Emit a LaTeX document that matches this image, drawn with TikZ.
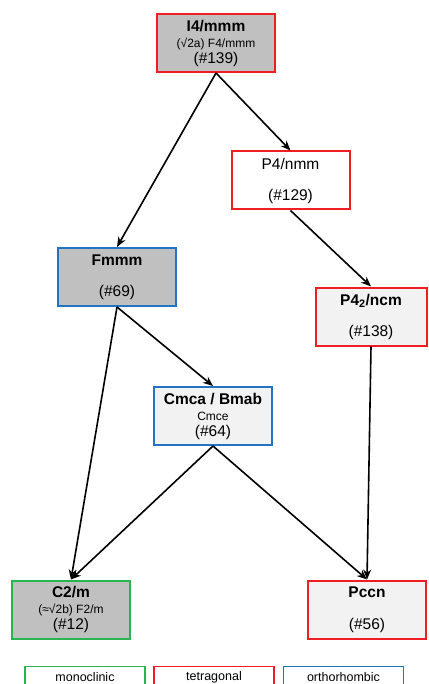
\documentclass[tikz,border=0pt]{standalone}
\usepackage{fontspec}
\setmainfont{Liberation Sans}
\usetikzlibrary{arrows.meta}
\definecolor{tetra}{RGB}{240,30,35}
\definecolor{ortho}{RGB}{35,115,195}
\definecolor{mono}{RGB}{40,180,80}
\definecolor{darkfill}{RGB}{192,192,192}
\definecolor{lightfill}{RGB}{242,242,242}
\tikzset{
  box/.style={draw, line width=2pt, minimum width=118pt, minimum height=58pt, inner sep=0pt, align=center, font={\fontsize{15.5}{16}\selectfont}},
  tet/.style={box, draw=tetra},
  ort/.style={box, draw=ortho},
  mon/.style={box, draw=mono},
  dark/.style={fill=darkfill},
  light/.style={fill=lightfill},
  conn/.style={line width=1.6pt, -{Stealth[length=10pt,width=8pt]}},
  legend/.style={draw, line width=1.8pt, minimum width=120pt, minimum height=40pt, anchor=north, inner sep=0pt},
  legtext/.style={font={\fontsize{12.5}{14}\selectfont}}
}
\newcommand{\sm}[1]{{\fontsize{12}{16}\selectfont #1}}
\begin{document}
\begin{tikzpicture}[x=1pt,y=-1pt]
\useasboundingbox (0,0) rectangle (428,684);
\node[tet,dark] (i4) at (216,43) {\textbf{I4/mmm}\\\sm{(√2a) F4/mmm}\\(\#139)};
\node[tet,fill=white] (p4) at (290.5,180.5) {P4/nmm\\[15pt](\#129)};
\node[ort,dark] (fm) at (117,277) {\textbf{Fmmm}\\[15pt](\#69)};
\node[tet,light,minimum width=111pt] (p42) at (371,316.5) {\textbf{P4\textsubscript{2}/ncm}\\[15pt](\#138)};
\node[ort,light] (cm) at (213,416) {\textbf{Cmca / Bmab}\\\sm{Cmce}\\(\#64)};
\node[mon,dark] (c2) at (71,609.5) {\textbf{C2/m}\\\sm{(≈√2b) F2/m}\\(\#12)};
\node[tet,light] (pc) at (367,609.5) {\textbf{Pccn}\\[16pt](\#56)};
\draw[conn] (i4.south) -- (fm.north);
\draw[conn] (i4.south) -- (p4.north);
\draw[conn] (p4.south) -- (p42.north);
\draw[conn] (fm.south) -- (cm.north);
\draw[conn] (fm.south) -- (c2.north);
\draw[conn] (cm.south) -- (c2.north);
\draw[conn] (cm.south) -- (pc.north);
\draw[conn] (p42.south) -- (pc.north);
\node[legend,draw=mono] (lm) at (85,665.5) {};
\node[legend,draw=tetra] (lt) at (214,665.5) {};
\node[legend,draw=ortho] (lo) at (343.5,665.5) {};
\node[legtext] (lmt) at (85,677) {monoclinic};
\node[legtext] (ltt) at (214,677) {tetragonal};
\node[legtext] (lot) at (343.5,677) {orthorhombic};
\end{tikzpicture}
\end{document}
